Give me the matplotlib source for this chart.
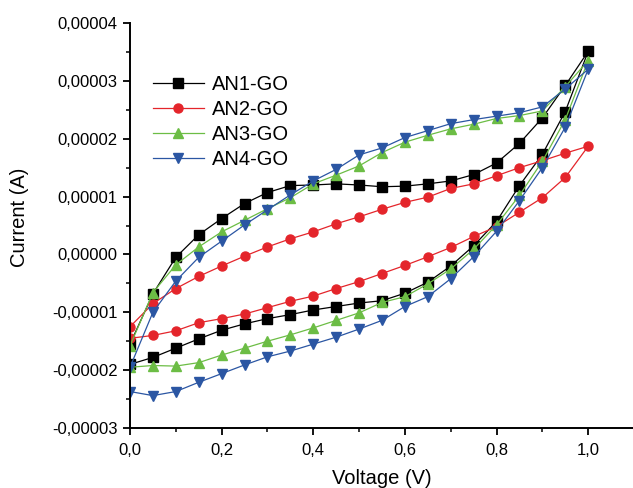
import matplotlib
matplotlib.use("Agg")
import matplotlib.pyplot as plt
from matplotlib.ticker import MultipleLocator, FuncFormatter

plt.rcParams['font.family'] = ['Liberation Sans', 'DejaVu Sans']

# potential sweep: forward 0 -> 1.0 V, reverse 0.95 -> 0 V
v_fwd = [0.0, 0.05, 0.1, 0.15, 0.2, 0.25, 0.3, 0.35, 0.4, 0.45, 0.5,
         0.55, 0.6, 0.65, 0.7, 0.75, 0.8, 0.85, 0.9, 0.95, 1.0]
v_rev = [0.95, 0.9, 0.85, 0.8, 0.75, 0.7, 0.65, 0.6, 0.55, 0.5,
         0.45, 0.4, 0.35, 0.3, 0.25, 0.2, 0.15, 0.1, 0.05, 0.0]

# currents in units of 1e-5 A
an1_fwd = [-1.55, -0.68, -0.05, 0.34, 0.62, 0.88, 1.07, 1.19, 1.20, 1.22, 1.20,
           1.17, 1.18, 1.22, 1.27, 1.38, 1.58, 1.92, 2.36, 2.92, 3.51]
an1_rev = [2.47, 1.73, 1.19, 0.57, 0.15, -0.20, -0.48, -0.67, -0.80, -0.84,
           -0.90, -0.96, -1.04, -1.11, -1.20, -1.31, -1.46, -1.62, -1.78, -1.90]

an2_fwd = [-1.25, -0.85, -0.59, -0.38, -0.20, -0.03, 0.13, 0.27, 0.39, 0.53, 0.65,
           0.78, 0.90, 0.99, 1.14, 1.22, 1.36, 1.50, 1.62, 1.75, 1.87]
an2_rev = [1.33, 0.98, 0.73, 0.48, 0.31, 0.12, -0.04, -0.19, -0.33, -0.47,
           -0.59, -0.72, -0.81, -0.92, -1.03, -1.11, -1.18, -1.32, -1.40, -1.45]

an3_fwd = [-1.58, -0.66, -0.18, 0.13, 0.39, 0.59, 0.79, 0.98, 1.22, 1.37, 1.53,
           1.76, 1.94, 2.06, 2.17, 2.25, 2.35, 2.40, 2.48, 2.90, 3.35]
an3_rev = [2.33, 1.61, 1.02, 0.51, 0.09, -0.25, -0.51, -0.73, -0.83, -1.01,
           -1.14, -1.27, -1.39, -1.50, -1.62, -1.74, -1.87, -1.93, -1.92, -1.95]

an4_fwd = [-1.95, -1.00, -0.46, -0.05, 0.23, 0.51, 0.77, 1.03, 1.27, 1.47, 1.72,
           1.84, 2.02, 2.14, 2.26, 2.33, 2.39, 2.45, 2.55, 2.86, 3.20]
an4_rev = [2.20, 1.50, 0.93, 0.40, -0.04, -0.42, -0.73, -0.90, -1.14, -1.29,
           -1.43, -1.55, -1.67, -1.77, -1.91, -2.06, -2.21, -2.37, -2.44, -2.37]

labels = ['AN1-GO', 'AN2-GO', 'AN3-GO', 'AN4-GO']
colors = ['#000000', '#e4252b', '#6cbd45', '#2b56a3']
markers = ['s', 'o', '^', 'v']

series = [(an1_fwd, an1_rev), (an2_fwd, an2_rev),
          (an3_fwd, an3_rev), (an4_fwd, an4_rev)]

fig = plt.figure(figsize=(6.33, 4.88), dpi=100)
ax = fig.add_axes([130 / 633, 60 / 488, 504 / 633, 405 / 488])

for (fwd, rev), lab, c, m in zip(series, labels, colors, markers):
    v = v_fwd + v_rev
    i = [x * 1e-5 for x in fwd + rev]
    ax.plot(v, i, color=c, lw=0.9, marker=m, markersize=6.5,
            markerfacecolor=c, markeredgecolor=c, label=lab)

ax.set_xlim(0, 1.1)
ax.set_ylim(-0.00003, 0.00004)

ax.xaxis.set_major_locator(MultipleLocator(0.2))
ax.xaxis.set_minor_locator(MultipleLocator(0.1))
ax.yaxis.set_major_locator(MultipleLocator(0.00001))
ax.yaxis.set_minor_locator(MultipleLocator(0.000005))

ax.xaxis.set_major_formatter(FuncFormatter(lambda x, p: f"{x:.1f}".replace('.', ',')))
ax.yaxis.set_major_formatter(FuncFormatter(
    lambda y, p: f"{y:.5f}".replace('.', ',').replace('-0,00000', '0,00000')))

for s in ['top', 'right']:
    ax.spines[s].set_visible(False)
for s in ['left', 'bottom']:
    ax.spines[s].set_linewidth(1.4)

ax.tick_params(which='major', direction='out', length=5, width=1.3, labelsize=12, pad=4)
ax.tick_params(which='minor', direction='out', length=3, width=1.1)
ax.tick_params(axis='x', which='major', pad=6)

ax.set_xlabel('Voltage (V)', fontsize=14.5)
ax.set_ylabel('Current (A)', fontsize=14.5)
ax.xaxis.set_label_coords(0.5, -0.1)
ax.yaxis.set_label_coords(-0.2, 0.52)

ax.legend(loc='upper left', bbox_to_anchor=(0.046, 0.872), frameon=False,
          fontsize=14.5, handlelength=2.5, handletextpad=0.4,
          labelspacing=0.3, borderaxespad=0, borderpad=0)

fig.savefig('out.png', dpi=100)
